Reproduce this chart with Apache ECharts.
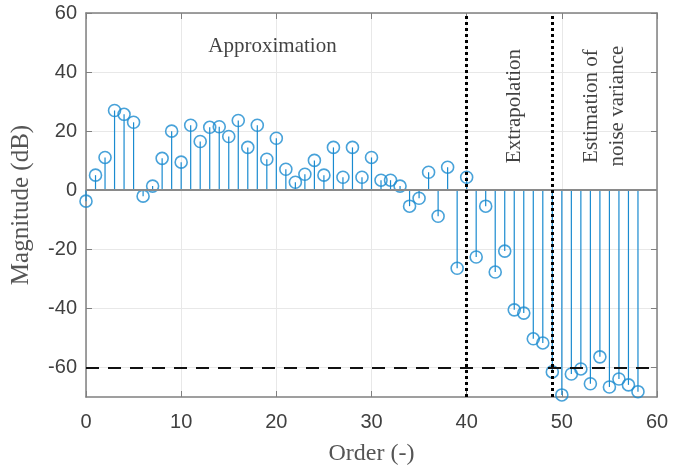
<!DOCTYPE html>
<html lang="en">
<head>
    <meta charset="UTF-8">
    <title>Magnitude vs order</title>
    <script src="https://cdn.jsdelivr.net/npm/echarts@6/dist/echarts.min.js"></script>
    <style>
        html, body { margin: 0; padding: 0; background: #fff; }
        #main { width: 683px; height: 468px; }
    </style>
</head>
<body>
    <div id="main"></div>
    <script type="text/javascript">
        // values (order 0..58)
        var orders = [];
        for (var i = 0; i <= 58; i++) orders.push(i);
        var magnitudes = [
            -3.7, 5.1, 11.1, 27.0, 25.7, 23.0, -2.0, 1.4, 10.8, 20.0,
            9.5, 22.0, 16.5, 21.3, 21.5, 18.2, 23.6, 14.5, 22.0, 10.5,
            17.6, 7.1, 2.7, 5.4, 10.1, 5.1, 14.5, 4.4, 14.5, 4.4,
            11.1, 3.4, 3.4, 1.4, -5.4, -2.7, 6.1, -8.8, 7.8, -26.4,
            4.4, -22.6, -5.4, -27.7, -20.6, -40.5, -41.6, -50.3, -51.7, -61.5,
            -69.3, -62.2, -60.5, -65.5, -56.4, -66.6, -63.9, -65.9, -68.2
        ];
        var regionBounds = [40, 49];        // dotted separators
        var noiseLevel = -60;               // dashed horizontal line
        var yTicks = [-60, -40, -20, 0, 20, 40, 60];
        var regionLabels = [
            { name: 'Approximation', x: 19.6, y: 48.6, rotate: 0 },
            { name: 'Extrapolation', x: 45, y: 28.5, rotate: 90 },
            { name: 'Estimation of\nnoise variance', x: 54.5, y: 28.5, rotate: 90 }
        ];

        var blue = '#1a8bd0';
        var axisGray = '#808080';
        var serif = '"Liberation Serif", "DejaVu Serif", serif';
        var sans = '"Liberation Sans", Arial, sans-serif';

        var chart = echarts.init(document.getElementById('main'), null, { renderer: 'canvas' });

        var stemData = orders.map(function (o, i) { return [o, magnitudes[i]]; });

        var option = {
            animation: false,
            backgroundColor: '#fff',
            grid: { left: 86, right: 26, top: 13, bottom: 71, outerBoundsMode: 'none', containLabel: false },
            xAxis: [{
                type: 'value', min: 0, max: 60, interval: 10,
                name: 'Order (-)', nameLocation: 'middle', nameGap: 45,
                nameTextStyle: { fontFamily: serif, fontSize: 24, color: '#555' },
                axisLine: { show: true, onZero: false, lineStyle: { color: axisGray, width: 1.5 } },
                axisTick: { show: true, inside: true, length: 6, lineStyle: { color: axisGray } },
                axisLabel: { fontFamily: sans, fontSize: 20, color: '#404040', margin: 15 },
                splitLine: { show: true, lineStyle: { color: '#e8e8e8', width: 1 } }
            }, {
                type: 'value', min: 0, max: 60, interval: 10, position: 'top',
                axisLine: { show: true, onZero: false, lineStyle: { color: axisGray, width: 1.5 } },
                axisTick: { show: true, inside: true, length: 6, lineStyle: { color: axisGray } },
                axisLabel: { show: false },
                splitLine: { show: false }
            }],
            yAxis: [{
                type: 'value', min: -70, max: 60,
                name: 'Magnitude (dB)', nameLocation: 'middle', nameGap: 52,
                nameTextStyle: { fontFamily: serif, fontSize: 25, color: '#555' },
                axisLine: { show: true, onZero: false, lineStyle: { color: axisGray, width: 1.5 } },
                axisTick: { show: true, inside: true, length: 6, customValues: yTicks, lineStyle: { color: axisGray } },
                axisLabel: { fontFamily: sans, fontSize: 20, color: '#404040', margin: 9, customValues: yTicks },
                splitLine: { show: true, lineStyle: { color: '#e8e8e8', width: 1 } }
            }, {
                type: 'value', min: -70, max: 60, position: 'right',
                axisLine: { show: true, onZero: false, lineStyle: { color: axisGray, width: 1.5 } },
                axisTick: { show: true, inside: true, length: 6, customValues: yTicks, lineStyle: { color: axisGray } },
                axisLabel: { show: false },
                splitLine: { show: false }
            }],
            series: [
                {
                    // stems
                    type: 'custom',
                    data: stemData,
                    z: 3,
                    renderItem: function (params, api) {
                        var top = api.coord([api.value(0), api.value(1)]);
                        var base = api.coord([api.value(0), 0]);
                        return {
                            type: 'line',
                            shape: { x1: base[0], y1: base[1], x2: top[0], y2: top[1] },
                            style: { stroke: blue, lineWidth: 1.2 }
                        };
                    },
                    markLine: {
                        silent: true, symbol: 'none', label: { show: false },
                        data: [{ yAxis: 0, lineStyle: { color: '#8a8a8a', width: 2, type: 'solid' } }]
                    }
                },
                {
                    // markers
                    type: 'scatter',
                    data: stemData,
                    symbol: 'circle',
                    symbolSize: 12,
                    z: 4,
                    itemStyle: { color: 'rgba(0,0,0,0)', borderColor: blue, borderWidth: 1.6 }
                },
                {
                    // region separators, noise level and region labels
                    type: 'scatter',
                    symbolSize: 0,
                    z: 5,
                    data: regionLabels.map(function (r) {
                        return {
                            value: [r.x, r.y], name: r.name,
                            label: { rotate: r.rotate }
                        };
                    }),
                    label: {
                        show: true, position: 'inside', formatter: '{b}',
                        fontFamily: serif, fontSize: 21, color: '#111', lineHeight: 26, align: 'center'
                    },
                    markLine: {
                        silent: true, symbol: 'none', label: { show: false },
                        data: regionBounds.map(function (b) {
                            return { xAxis: b, lineStyle: { color: '#000', width: 3, type: [3, 3] } };
                        }).concat([{ yAxis: noiseLevel, lineStyle: { color: '#111', width: 2, type: [13, 9] } }])
                    }
                }
            ]
        };

        chart.setOption(option);
        window.addEventListener('resize', function () { chart.resize(); });
    </script>
</body>
</html>
